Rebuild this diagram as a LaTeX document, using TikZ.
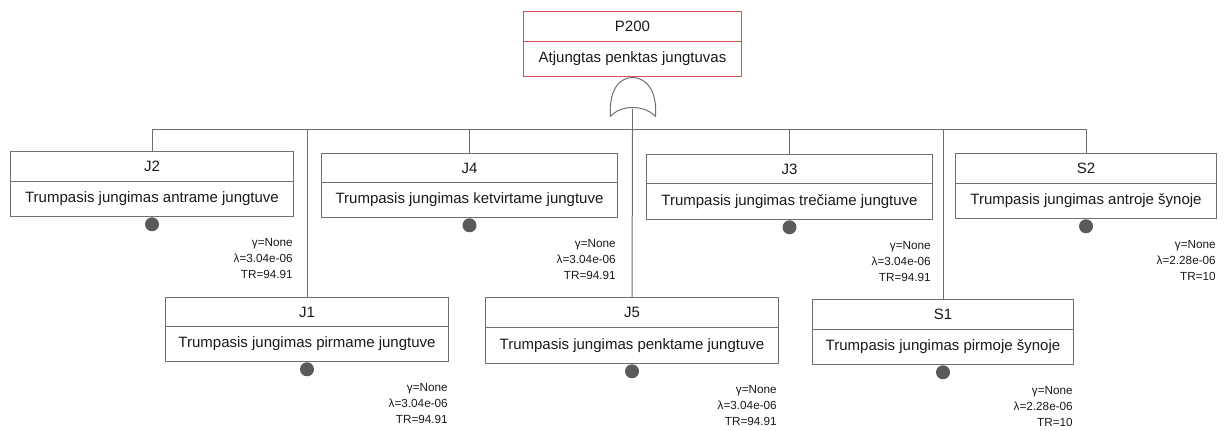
\documentclass[tikz,border=0pt]{standalone}
\usepackage{fontspec}
\setmainfont{Liberation Sans}
\usetikzlibrary{calc,fit}

\definecolor{edge}{HTML}{707070}
\definecolor{topedge}{HTML}{D0504C}
\definecolor{dot}{HTML}{5A5A5A}
\definecolor{ink}{HTML}{1A1A1A}

\tikzset{
  evbox/.style={draw=edge, line width=0.75pt, fill=white, rectangle, inner sep=0pt},
  divline/.style={draw=edge, line width=0.75pt},
  topbox/.style={draw=topedge, line width=0.9pt},
  titletext/.style={text=ink, inner sep=0pt, font=\fontsize{11.25}{13}\selectfont},
  desctext/.style={text=ink, inner sep=0pt, font=\fontsize{11.25}{13}\selectfont},
  basicev/.style={circle, fill=dot, draw=none, minimum size=10.5pt, inner sep=0pt, anchor=north},
  param/.style={text=ink, inner sep=0pt, align=right, anchor=north east,
    font=\fontsize{8.8}{12}\selectfont},
  wire/.style={draw=edge, line width=0.75pt},
  gateline/.style={draw=edge, line width=0.75pt, line join=round}
}

% \eventbox[extra style]{name}{left}{top}{right}{divider}{bottom}{title}{description}
\newcommand{\eventbox}[9][]{%
  \node[evbox, #1, fit={(#3,#4) (#5,#7)}] (#2) {};
  \draw[divline, #1] (#3,#6) -- (#5,#6);
  \node[titletext] (#2-t) at ($(#3,#4)!0.5!(#5,#6)$) {#8};
  \node[desctext] (#2-d) at ($(#3,#6)!0.5!(#5,#7)$) {#9};
}

\begin{document}
\begin{tikzpicture}[x=0.75pt, y=-0.75pt]
  \useasboundingbox (0,0) rectangle (1228,430);

  % half-pixel offset keeps the 1px strokes sharp
  \begin{scope}[shift={(0.5,0.5)}]
  % top event
  \eventbox[topbox]{p200}{523}{11}{741}{41}{76}{P200}{Atjungtas penktas jungtuvas}

  % OR gate below the top event
  \draw[gateline] (610,116) .. controls (608,88) and (620,77) .. (632,77)
                  .. controls (644,77) and (657,88) .. (655,116);
  \draw[gateline] (610,116) .. controls (620,104) and (644,104) .. (655,116);
  \coordinate (gate-out) at (632,108);
  \coordinate (bus) at (632,129);

  % upper row of basic events
  \eventbox{j2}{10}{151}{293}{181}{216}{J2}{Trumpasis jungimas antrame jungtuve}
  \eventbox{j4}{321}{153}{617}{182}{217}{J4}{Trumpasis jungimas ketvirtame jungtuve}
  \eventbox{j3}{646}{154}{932}{183}{219}{J3}{Trumpasis jungimas trečiame jungtuve}
  \eventbox{s2}{955}{153}{1216}{183}{218}{S2}{Trumpasis jungimas antroje šynoje}

  % lower row of basic events
  \eventbox{j1}{165}{297}{448}{326}{361}{J1}{Trumpasis jungimas pirmame jungtuve}
  \eventbox{j5}{485}{297}{778}{327}{363}{J5}{Trumpasis jungimas penktame jungtuve}
  \eventbox{s1}{812}{299}{1073}{329}{364}{S1}{Trumpasis jungimas pirmoje šynoje}

  % connectors from the gate
  \draw[wire] (gate-out) -- (bus);
  \foreach \n in {j2,j1,j4,j3,s1,s2}{
    \draw[wire] (bus) -| (\n.north);
  }
  \draw[wire] (bus) -- (j5.north);

  % basic event markers
  \foreach \n in {j2,j4,j3,s2,j1,j5,s1}{
    \node[basicev] (\n-c) at (\n.south) {};
  }

  % reliability parameters
  \node[param] (j2-p) at ($(j2.south east)+(-1,21)$) {γ=None\\λ=3.04e-06\\TR=94.91};
  \node[param] (j4-p) at ($(j4.south east)+(-2,21)$) {γ=None\\λ=3.04e-06\\TR=94.91};
  \node[param] (j3-p) at ($(j3.south east)+(-2,21)$) {γ=None\\λ=3.04e-06\\TR=94.91};
  \node[param] (s2-p) at ($(s2.south east)+(-1,21)$) {γ=None\\λ=2.28e-06\\TR=10};
  \node[param] (j1-p) at ($(j1.south east)+(-1,21)$) {γ=None\\λ=3.04e-06\\TR=94.91};
  \node[param] (j5-p) at ($(j5.south east)+(-2,21)$) {γ=None\\λ=3.04e-06\\TR=94.91};
  \node[param] (s1-p) at ($(s1.south east)+(-1,21)$) {γ=None\\λ=2.28e-06\\TR=10};
  \end{scope}
\end{tikzpicture}
\end{document}
